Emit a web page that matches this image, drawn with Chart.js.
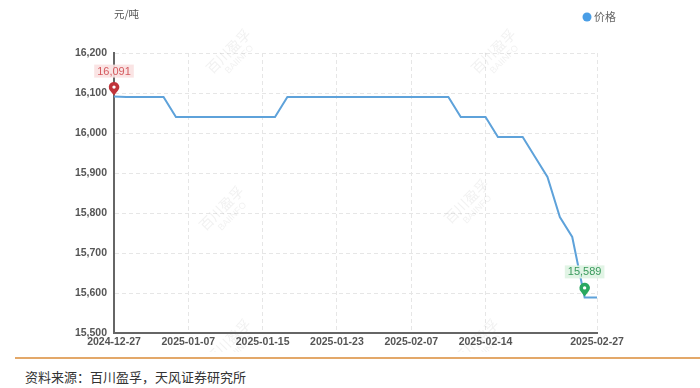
<!DOCTYPE html>
<html>
<head>
<meta charset="utf-8">
<script src="https://cdn.jsdelivr.net/npm/chart.js@4.4.1/dist/chart.umd.min.js"></script>
<style>
  body { margin: 0; background: #fff; }
  #wrap { position: relative; width: 700px; height: 388px; background: #fff; overflow: hidden; }
  #priceChart { position: absolute; left: 0; top: 0; }
  .rule { position: absolute; left: 15px; top: 357px; width: 685px; height: 2px; background: #e3a869; }
  .source { position: absolute; left: 25px; top: 368px; font: 13px 'Noto Sans CJK SC', sans-serif; color: #333; line-height: 18px; }
</style>
</head>
<body>
<div id="wrap">
  <canvas id="priceChart" width="700" height="352"></canvas>
  <div class="rule"></div>
  <div class="source">资料来源：百川盈孚，天风证券研究所</div>
</div>
<script>
const dates = [
    '2024-12-27','2024-12-30','2024-12-31','2025-01-02','2025-01-03','2025-01-06','2025-01-07',
    '2025-01-08','2025-01-09','2025-01-10','2025-01-13','2025-01-14','2025-01-15',
    '2025-01-16','2025-01-17','2025-01-20','2025-01-21','2025-01-22','2025-01-23',
    '2025-01-24','2025-01-26','2025-01-27','2025-02-05','2025-02-06','2025-02-07',
    '2025-02-08','2025-02-10','2025-02-11','2025-02-12','2025-02-13','2025-02-14',
    '2025-02-17','2025-02-18','2025-02-19','2025-02-20','2025-02-21','2025-02-24',
    '2025-02-25','2025-02-26','2025-02-27'
];
const prices = [
    16091, 16090, 16090, 16090, 16090, 16040, 16040,
    16040, 16040, 16040, 16040, 16040, 16040,
    16040, 16090, 16090, 16090, 16090, 16090,
    16090, 16090, 16090, 16090, 16090, 16090,
    16090, 16090, 16090, 16040, 16040, 16040,
    15990, 15990, 15990, 15940, 15890, 15790,
    15740, 15589, 15589
];
const tickDates = ['2024-12-27','2025-01-07','2025-01-15','2025-01-23','2025-02-07','2025-02-14','2025-02-27'];
const yMin = 15500, yMax = 16200, yStep = 100;
const seriesName = '价格';
const unitLabel = '元/吨';

const lineBlue = '#5ea2da';
const dotBlue = '#4a9ee6';
const tickFont = { family: "'Liberation Sans', Arial, sans-serif", size: 10.5, weight: 'bold' };
const fmt = v => v.toLocaleString('en-US');

// watermark, unit label, legend and min/max pins
const decor = {
    id: 'decor',
    beforeDatasetsDraw(chart) {
        const ctx = chart.ctx;
        const spots = [[232, 55], [497, 55], [225, 212], [470, 205], [232, 345], [480, 345]];
        ctx.save();
        ctx.fillStyle = 'rgba(120,120,120,0.10)';
        ctx.textAlign = 'center';
        spots.forEach(([x, y]) => {
            ctx.save();
            ctx.translate(x, y);
            ctx.rotate(-Math.PI / 4);
            ctx.font = "14px 'Noto Sans CJK SC'";
            ctx.fillText('百川盈孚', 0, 0);
            ctx.font = "9px 'Liberation Sans'";
            ctx.fillText('BAIINFO', 2, 11);
            ctx.restore();
        });
        ctx.restore();
    },
    afterDraw(chart) {
        const ctx = chart.ctx;
        const xs = chart.scales.x, ys = chart.scales.y;
        ctx.save();
        // unit
        ctx.font = "10.5px 'Noto Sans CJK SC'";
        ctx.fillStyle = '#555';
        ctx.textAlign = 'left';
        ctx.textBaseline = 'middle';
        ctx.fillText(unitLabel, 114, 14);
        // legend
        ctx.fillStyle = dotBlue;
        ctx.beginPath();
        ctx.arc(587, 17, 4.5, 0, Math.PI * 2);
        ctx.fill();
        ctx.fillStyle = '#666';
        ctx.font = "11px 'Noto Sans CJK SC'";
        ctx.fillText(chart.data.datasets[0].label, 594, 17);

        // pins
        const data = chart.data.datasets[0].data;
        const maxI = data.indexOf(Math.max(...data));
        const minI = data.indexOf(Math.min(...data));
        const pin = (i, color, txtColor, bg) => {
            const x = xs.getPixelForValue(i);
            const y = ys.getPixelForValue(data[i]) - 1;
            ctx.fillStyle = color;
            ctx.beginPath();
            ctx.arc(x, y - 8.5, 5.2, Math.PI * 0.78, Math.PI * 2.22);
            ctx.lineTo(x, y);
            ctx.closePath();
            ctx.fill();
            ctx.fillStyle = '#fff';
            ctx.beginPath();
            ctx.arc(x, y - 8.5, 1.7, 0, Math.PI * 2);
            ctx.fill();
            const t = fmt(data[i]);
            ctx.font = "11px 'Liberation Sans', Arial";
            const w = ctx.measureText(t).width + 6;
            ctx.fillStyle = bg;
            ctx.fillRect(x - w / 2, y - 31, w, 13);
            ctx.fillStyle = txtColor;
            ctx.textAlign = 'center';
            ctx.fillText(t, x, y - 24);
            ctx.textAlign = 'left';
        };
        pin(maxI, '#c0343a', '#d45a5f', 'rgba(250,225,225,0.9)');
        pin(minI, '#2aa860', '#3a9a5c', 'rgba(222,243,226,0.9)');
        ctx.restore();
    }
};

new Chart(document.getElementById('priceChart'), {
    type: 'line',
    data: {
        labels: dates,
        datasets: [{
            label: seriesName,
            data: prices,
            borderColor: lineBlue,
            borderWidth: 2,
            pointRadius: 0,
            tension: 0,
            fill: false,
        }]
    },
    options: {
        responsive: false,
        animation: false,
        layout: { padding: { top: 53, right: 103, left: 0, bottom: 0 } },
        plugins: { legend: { display: false }, tooltip: { enabled: false } },
        scales: {
            x: {
                afterFit: s => { s.height = 19; },
                border: { color: '#666', width: 2, dash: [4, 3] },
                grid: {
                    drawTicks: false,
                    color: c => (c.tick && tickDates.includes(dates[c.index])) ? '#e6e6e6' : 'rgba(0,0,0,0)',
                },
                ticks: {
                    autoSkip: false,
                    maxRotation: 0,
                    minRotation: 0,
                    padding: 3,
                    color: '#555',
                    font: tickFont,
                    callback(v) {
                        const d = this.getLabelForValue(v);
                        return tickDates.includes(d) ? d : '';
                    }
                }
            },
            y: {
                min: yMin,
                max: yMax,
                afterFit: s => { s.width = 114; },
                border: { color: '#666', width: 2, dash: [4, 3] },
                grid: { drawTicks: false, color: '#e6e6e6' },
                ticks: {
                    stepSize: yStep,
                    padding: 7,
                    color: '#555',
                    font: tickFont,
                    callback: v => fmt(v)
                }
            }
        }
    },
    plugins: [decor]
});
</script>
</body>
</html>
